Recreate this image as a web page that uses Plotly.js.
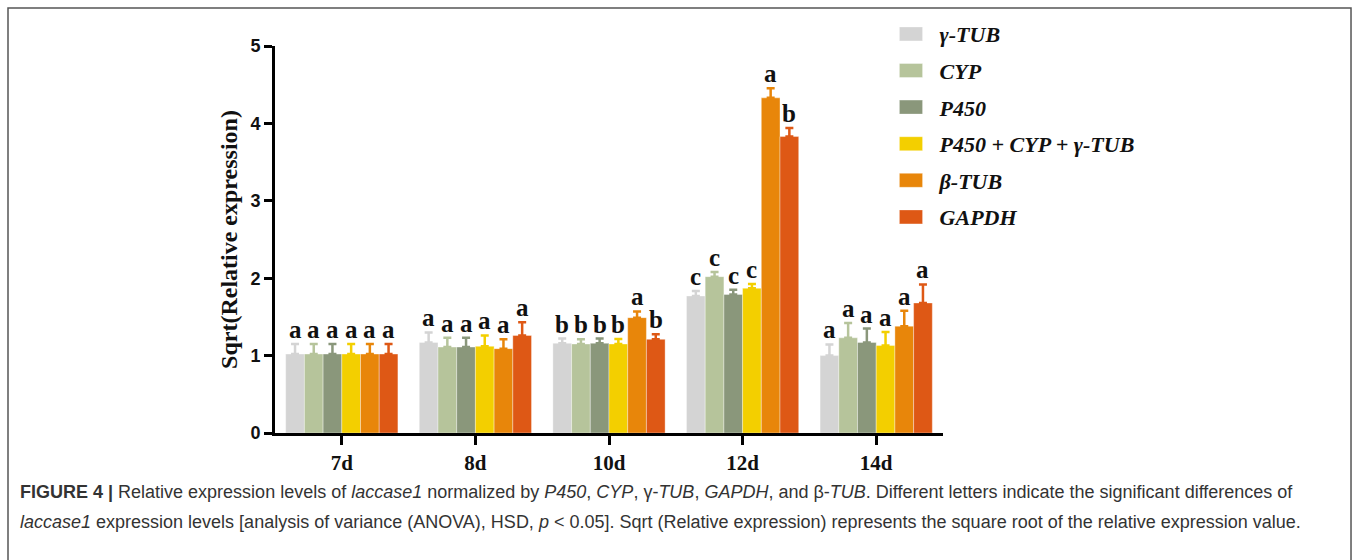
<!DOCTYPE html>
<html>
<head>
<meta charset="utf-8">
<script src="https://cdn.plot.ly/plotly-3.0.1.min.js"></script>
<style>html,body{margin:0;padding:0;background:#fff;}#chart{width:1357px;height:560px;}</style>
</head>
<body>
<div id="chart"></div>
<script>
const categories = ['7d', '8d', '10d', '12d', '14d'];
const seriesNames = ['γ-TUB', 'CYP', 'P450', 'P450 + CYP + γ-TUB', 'β-TUB', 'GAPDH'];
const colors = ['#d4d4d4', '#b6c49b', '#8a977b', '#f3cf00', '#e8860a', '#de5815'];

const gammaTub   = [1.02, 1.17, 1.16, 1.77, 1.00];
const cyp        = [1.02, 1.11, 1.15, 2.02, 1.23];
const p450       = [1.02, 1.11, 1.16, 1.79, 1.17];
const combined   = [1.02, 1.12, 1.15, 1.87, 1.13];
const betaTub    = [1.02, 1.09, 1.49, 4.33, 1.38];
const gapdh      = [1.02, 1.26, 1.21, 3.83, 1.68];

const gammaTubErr = [0.13, 0.13, 0.06, 0.065, 0.145];
const cypErr      = [0.13, 0.12, 0.06, 0.06, 0.19];
const p450Err     = [0.13, 0.12, 0.06, 0.06, 0.18];
const combinedErr = [0.13, 0.14, 0.065, 0.055, 0.175];
const betaTubErr  = [0.13, 0.12, 0.08, 0.125, 0.20];
const gapdhErr    = [0.13, 0.17, 0.065, 0.11, 0.24];

const gammaTubLetters = ['a', 'a', 'b', 'c', 'a'];
const cypLetters      = ['a', 'a', 'b', 'c', 'a'];
const p450Letters     = ['a', 'a', 'b', 'c', 'a'];
const combinedLetters = ['a', 'a', 'b', 'c', 'a'];
const betaTubLetters  = ['a', 'a', 'a', 'a', 'a'];
const gapdhLetters    = ['a', 'a', 'b', 'b', 'a'];

const captionLine1 = '<b>FIGURE 4 |</b> Relative expression levels of <i>laccase1</i> normalized by <i>P450</i>, <i>CYP</i>, γ-<i>TUB</i>, <i>GAPDH</i>, and β-<i>TUB</i>. Different letters indicate the significant differences of';
const captionLine2 = '<i>laccase1</i> expression levels [analysis of variance (ANOVA), HSD, <i>p</i> &lt; 0.05]. Sqrt (Relative expression) represents the square root of the relative expression value.';

const values = [gammaTub, cyp, p450, combined, betaTub, gapdh];
const errs = [gammaTubErr, cypErr, p450Err, combinedErr, betaTubErr, gapdhErr];
const letters = [gammaTubLetters, cypLetters, p450Letters, combinedLetters, betaTubLetters, gapdhLetters];

const bargap = 0.16;
const nSeries = seriesNames.length;
const barW = (1 - bargap) / nSeries;

const traces = seriesNames.map((name, i) => ({
  type: 'bar',
  name: '<b><i>' + name + '</i></b>',
  x: categories,
  y: values[i],
  legendgroup: 'g' + i,
  marker: {color: colors[i], line: {color: 'rgba(255,255,255,0.6)', width: 0.6}},
  error_y: {type: 'data', symmetric: false, array: errs[i], arrayminus: errs[i].map(() => 0),
            color: colors[i], thickness: 2.5, width: 4}
}));

const annotations = [];
seriesNames.forEach((name, i) => {
  categories.forEach((c, j) => {
    annotations.push({
      xref: 'x', yref: 'y',
      x: j + (i - (nSeries - 1) / 2) * barW,
      y: values[i][j] + errs[i][j],
      text: '<b>' + letters[i][j] + '</b>',
      showarrow: false, yanchor: 'bottom', yshift: -1,
      font: {family: 'Liberation Serif, Times New Roman, serif', size: 25, color: '#111'}
    });
  });
});
annotations.push({
  xref: 'paper', yref: 'paper', x: -0.3848, y: -0.1525, xanchor: 'left', yanchor: 'middle',
  text: captionLine1, showarrow: false, align: 'left',
  font: {family: 'Liberation Sans, Arial, sans-serif', size: 18, color: '#333'}
});
annotations.push({
  xref: 'paper', yref: 'paper', x: -0.3848, y: -0.2305, xanchor: 'left', yanchor: 'middle',
  text: captionLine2, showarrow: false, align: 'left',
  font: {family: 'Liberation Sans, Arial, sans-serif', size: 18, color: '#333'}
});

const layout = {
  width: 1357, height: 560,
  margin: {l: 275, r: 414, t: 46, b: 127},
  paper_bgcolor: '#fff', plot_bgcolor: '#fff',
  barmode: 'group', bargap: bargap, bargroupgap: 0,
  showlegend: true,
  legend: {x: 0.935, y: 1.085, xanchor: 'left', yanchor: 'top',
           traceorder: 'grouped', tracegroupgap: 5,
           font: {family: 'Liberation Serif, Times New Roman, serif', size: 22, color: '#111'},
           bgcolor: 'rgba(0,0,0,0)'},
  xaxis: {type: 'category', range: [-0.5, 4.5], showline: true, linecolor: '#000', linewidth: 3,
          ticks: 'outside', ticklen: 9, tickwidth: 3, tickcolor: '#000', showgrid: false,
          zeroline: false,
          tickfont: {family: 'Liberation Serif, Times New Roman, serif', size: 21, color: '#111', weight: 'bold'}},
  yaxis: {range: [0, 5], dtick: 1, showline: true, linecolor: '#000', linewidth: 3,
          ticks: 'outside', ticklen: 8, tickwidth: 3, tickcolor: '#000', showgrid: false,
          zeroline: false,
          tickfont: {family: 'Liberation Sans, Arial, sans-serif', size: 18, color: '#111', weight: 'bold'},
          title: {text: '<b>Sqrt(Relative expression)</b>', standoff: 6,
                  font: {family: 'Liberation Serif, Times New Roman, serif', size: 24, color: '#111'}}},
  annotations: annotations,
  shapes: [{type: 'rect', xref: 'paper', yref: 'paper', x0: -0.3997, x1: 1.6108, y0: -0.36, y1: 1.0982,
            line: {color: '#555', width: 1.5}, fillcolor: 'rgba(0,0,0,0)', layer: 'below'}]
};

Plotly.newPlot('chart', traces, layout, {displayModeBar: false, staticPlot: true}).then(gd => {
  // widen legend swatches to match the reference's rectangular keys
  gd.querySelectorAll('.legend .legendpoints path').forEach(p => {
    p.setAttribute('d', 'M3,7H-27V-7H3Z');
  });
});
</script>
</body>
</html>
